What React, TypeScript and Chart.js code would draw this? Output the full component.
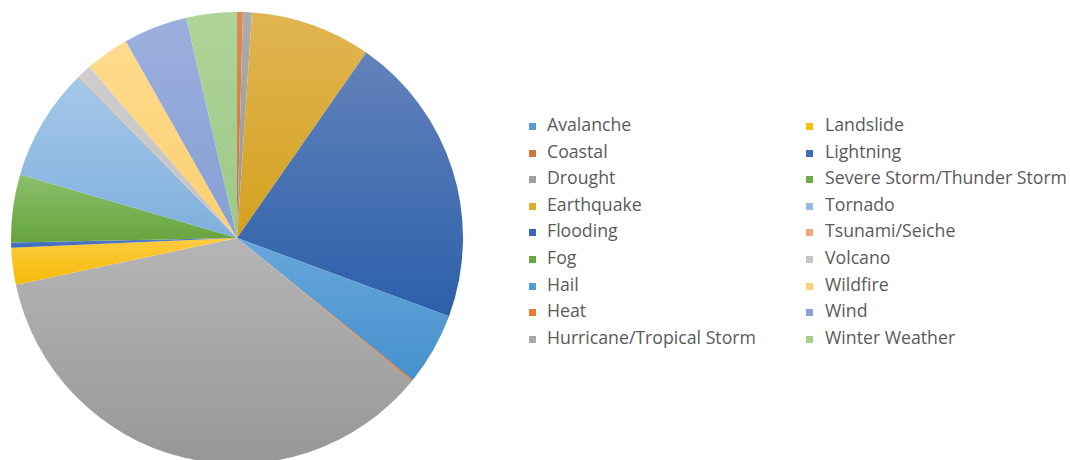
import React, { useEffect, useRef } from "react";
import { Chart, registerables } from "chart.js";

Chart.register(...registerables);

const categories: string[] = [
  "Avalanche",
  "Coastal",
  "Drought",
  "Earthquake",
  "Flooding",
  "Fog",
  "Hail",
  "Heat",
  "Hurricane/Tropical Storm",
  "Landslide",
  "Lightning",
  "Severe Storm/Thunder Storm",
  "Tornado",
  "Tsunami/Seiche",
  "Volcano",
  "Wildfire",
  "Wind",
  "Winter Weather",
];

// share of the pie, in degrees
const shares: number[] = [
  0, 1.5, 2.3, 31.1, 75.4, 0, 18.7, 0.4, 128.8, 9.5, 1.3, 17.5, 29.2, 0.3, 3.4,
  11.3, 16.5, 13.0,
];

// [top, bottom] gradient colours per category
const sliceColors: [string, string][] = [
  ["#6aa6dc", "#4f92cf"],
  ["#e08a52", "#d2722f"],
  ["#acacac", "#979797"],
  ["#e0b553", "#d4a11e"],
  ["#6382bb", "#2b60aa"],
  ["#82b862", "#65a03c"],
  ["#68a7dc", "#4590cd"],
  ["#f08a44", "#e27125"],
  ["#b5b5b5", "#979797"],
  ["#fdcc40", "#f5ba06"],
  ["#5a80c8", "#3a68b8"],
  ["#8cbf6d", "#66a43d"],
  ["#a6c8e9", "#7fafdd"],
  ["#f6b98f", "#f0a877"],
  ["#cdcdcd", "#c2c2c2"],
  ["#ffdb8e", "#fbcf6e"],
  ["#9cb0de", "#859ed3"],
  ["#afd398", "#9dc888"],
];

const legendColors: string[] = [
  "#5b9bd5", "#d4733a", "#a0a0a0", "#e0ac2b", "#3a68b2", "#6aa443",
  "#4f9ad8", "#ea7c32", "#a9a9a9", "#f8c10c", "#3f6db8", "#6fab48",
  "#93bce6", "#f4a57d", "#c4c4c4", "#fcd277", "#8aa2d6", "#a5cf8c",
];

function makeGradient(ctx: any) {
  const chart = ctx.chart;
  const i = ctx.dataIndex;
  const area = chart.chartArea;
  if (!area) return sliceColors[i][1];
  const total = shares.reduce((a, b) => a + b, 0);
  let before = 0;
  for (let k = 0; k < i; k++) before += shares[k];
  const start = (before / total) * Math.PI * 2 - Math.PI / 2;
  const end = ((before + shares[i]) / total) * Math.PI * 2 - Math.PI / 2;
  const cx = (area.left + area.right) / 2;
  const cy = (area.top + area.bottom) / 2;
  const r = Math.min(area.right - area.left, area.bottom - area.top) / 2;
  const ys = [cy, cy + r * Math.sin(start), cy + r * Math.sin(end)];
  for (const a of [-Math.PI / 2, Math.PI / 2, (3 * Math.PI) / 2]) {
    if (a >= start && a <= end) ys.push(cy + r * Math.sin(a));
  }
  let top = Math.min(...ys);
  let bottom = Math.max(...ys);
  if (bottom - top < 1) bottom = top + 1;
  const g = chart.ctx.createLinearGradient(0, top, 0, bottom);
  g.addColorStop(0, sliceColors[i][0]);
  g.addColorStop(1, sliceColors[i][1]);
  return g;
}

export default function App() {
  const ref = useRef<HTMLCanvasElement | null>(null);
  useEffect(() => {
    if (!ref.current) return;
    const chart = new Chart(ref.current, {
      type: "pie",
      data: {
        labels: categories,
        datasets: [
          {
            data: shares,
            backgroundColor: makeGradient as any,
            borderWidth: 0,
            hoverOffset: 0,
          },
        ],
      },
      options: {
        responsive: false,
        animation: false,
        layout: { padding: 0 },
        plugins: { legend: { display: false }, tooltip: { enabled: false } },
      },
    });
    return () => chart.destroy();
  }, []);

  const rowStep = 26.55;
  const firstBaseline = 131.2;
  const fontSize = 17.7;
  return (
    <div
      style={{
        position: "fixed",
        left: 0,
        top: 0,
        width: 1070,
        height: 460,
        overflow: "hidden",
        background: "#fff",
      }}
    >
      <canvas
        ref={ref}
        width={452}
        height={452}
        style={{ position: "absolute", left: 11, top: 12, width: 452, height: 452 }}
      />
      {categories.map((c, i) => {
        const col = i < 9 ? 0 : 1;
        const row = i % 9;
        const baseline = firstBaseline + row * rowStep;
        const markerLeft = col === 0 ? 529 : 806;
        const textLeft = col === 0 ? 547 : 825;
        return (
          <React.Fragment key={c}>
            <div
              style={{
                position: "absolute",
                left: markerLeft,
                top: baseline - 8,
                width: 7,
                height: 7,
                background: legendColors[i],
              }}
            />
            <div
              style={{
                position: "absolute",
                left: textLeft,
                top: baseline - 16,
                fontFamily: "'Open Sans', sans-serif",
                fontSize: fontSize,
                lineHeight: "18px",
                color: "#5a5a5a",
                whiteSpace: "nowrap",
              }}
            >
              {c}
            </div>
          </React.Fragment>
        );
      })}
    </div>
  );
}
